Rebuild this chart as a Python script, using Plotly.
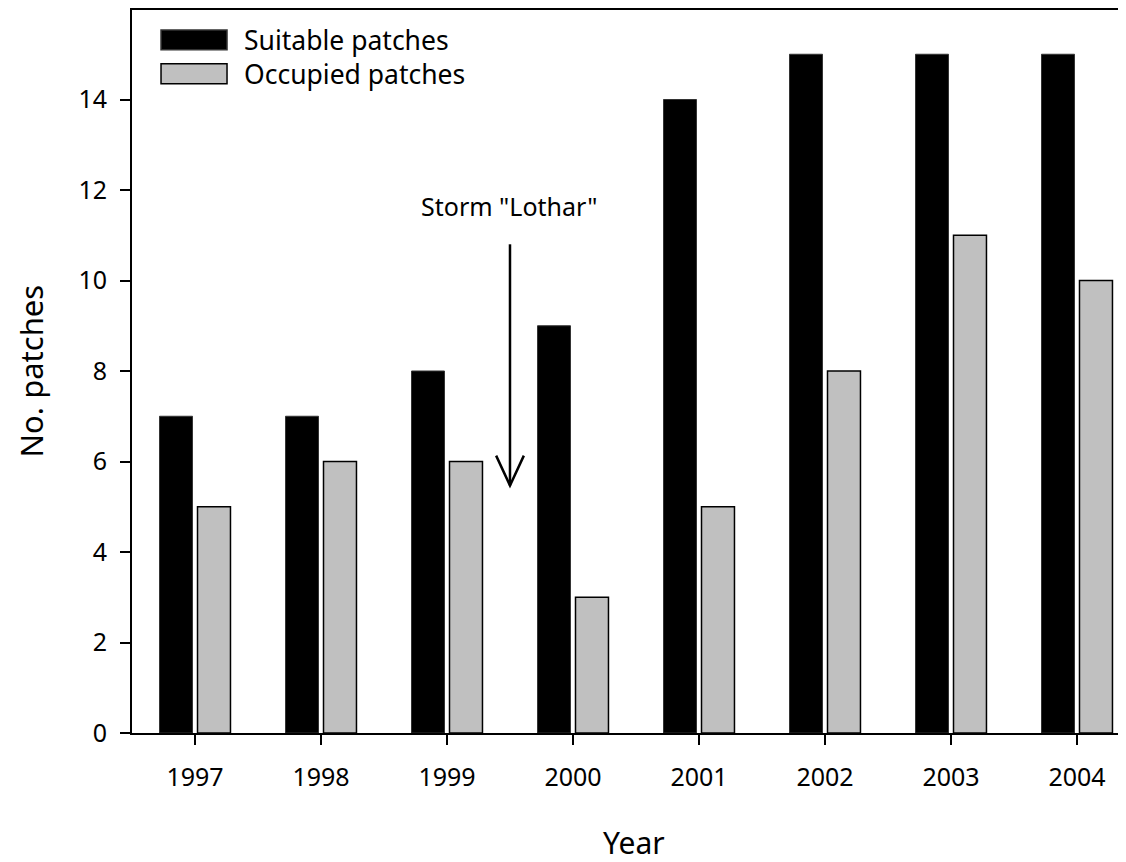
import plotly.graph_objects as go

years = [1997, 1998, 1999, 2000, 2001, 2002, 2003, 2004]
suitable = [7, 7, 8, 9, 14, 15, 15, 15]
occupied = [5, 6, 6, 3, 5, 8, 11, 10]
y_ticks = [0, 2, 4, 6, 8, 10, 12, 14]

storm_label = 'Storm "Lothar"'
storm_x = 1999.5
storm_y_top = 10.8
storm_y_tip = 5.47
storm_text_y = 11.65

FONT = "Noto Sans"
BLACK = "#000000"
GRAY = "#c0c0c0"

fig = go.Figure()
fig.add_trace(go.Bar(x=years, y=suitable, name="Suitable patches",
                     marker=dict(color=BLACK, line=dict(color="#333333", width=1)),
                     showlegend=False))
fig.add_trace(go.Bar(x=years, y=occupied, name="Occupied patches",
                     marker=dict(color=GRAY, line=dict(color=BLACK, width=1.5)),
                     showlegend=False))

# arrow: shaft + open V head
head_dx = 0.11
head_dy = 0.66
fig.add_shape(type="line", xref="x", yref="y", x0=storm_x, x1=storm_x,
              y0=storm_y_top, y1=storm_y_tip, line=dict(color=BLACK, width=2.5))
fig.add_shape(type="path", xref="x", yref="y",
              path=f"M {storm_x-head_dx},{storm_y_tip+head_dy} L {storm_x},{storm_y_tip} L {storm_x+head_dx},{storm_y_tip+head_dy}",
              line=dict(color=BLACK, width=2.5))
fig.add_annotation(x=storm_x, y=storm_text_y, xref="x", yref="y", text=storm_label,
                   showarrow=False, font=dict(family=FONT, size=25, color=BLACK),
                   xanchor="center", yanchor="middle")

# manual legend
legend_items = [("Suitable patches", BLACK, "#333333", 0.9725, 0.9449),
                ("Occupied patches", GRAY, BLACK, 0.9256, 0.8981)]
for name, fill, edge, y1, y0 in legend_items:
    fig.add_shape(type="rect", xref="paper", yref="paper", x0=0.0292, x1=0.0956,
                  y0=y0, y1=y1, fillcolor=fill, line=dict(color=edge, width=1.5))
    fig.add_annotation(x=0.1107, y=(y0 + y1) / 2, xref="paper", yref="paper", text=name,
                       showarrow=False, xanchor="left", yanchor="middle",
                       font=dict(family=FONT, size=26.5, color=BLACK))

# axis titles
fig.add_annotation(x=-0.1026, y=0.5, xref="paper", yref="paper", text="No. patches",
                   textangle=-90, showarrow=False, xanchor="center", yanchor="middle",
                   font=dict(family=FONT, size=31, color=BLACK), borderpad=0)
fig.add_annotation(x=0.505, y=-0.151, xref="paper", yref="paper", text="Year",
                   showarrow=False, xanchor="center", yanchor="middle",
                   font=dict(family=FONT, size=30, color=BLACK))

fig.update_layout(
    width=1118, height=854,
    margin=dict(l=124, r=0, t=0, b=129, pad=0),
    paper_bgcolor="white", plot_bgcolor="white",
    barmode="group", bargap=0.397, bargroupgap=0.132,
    font=dict(family=FONT, color=BLACK),
    showlegend=False,
)
fig.update_xaxes(
    range=[1996.5, 2004.389], tickmode="array", tickvals=years,
    ticktext=[str(y) for y in years],
    showgrid=False, zeroline=False, showline=True, linecolor=BLACK, linewidth=2,
    mirror=True, ticks="outside", ticklen=10, tickwidth=2, tickcolor=BLACK,
    tickfont=dict(family=FONT, size=25, color=BLACK), ticklabelstandoff=11,
)
fig.update_yaxes(
    range=[0, 15.978], tickmode="array", tickvals=y_ticks,
    showgrid=False, zeroline=False, showline=True, linecolor=BLACK, linewidth=2,
    ticks="outside", ticklen=10, tickwidth=2, tickcolor=BLACK,
    tickfont=dict(family=FONT, size=25, color=BLACK), ticklabelstandoff=8,
)

fig.write_html("out.html")
